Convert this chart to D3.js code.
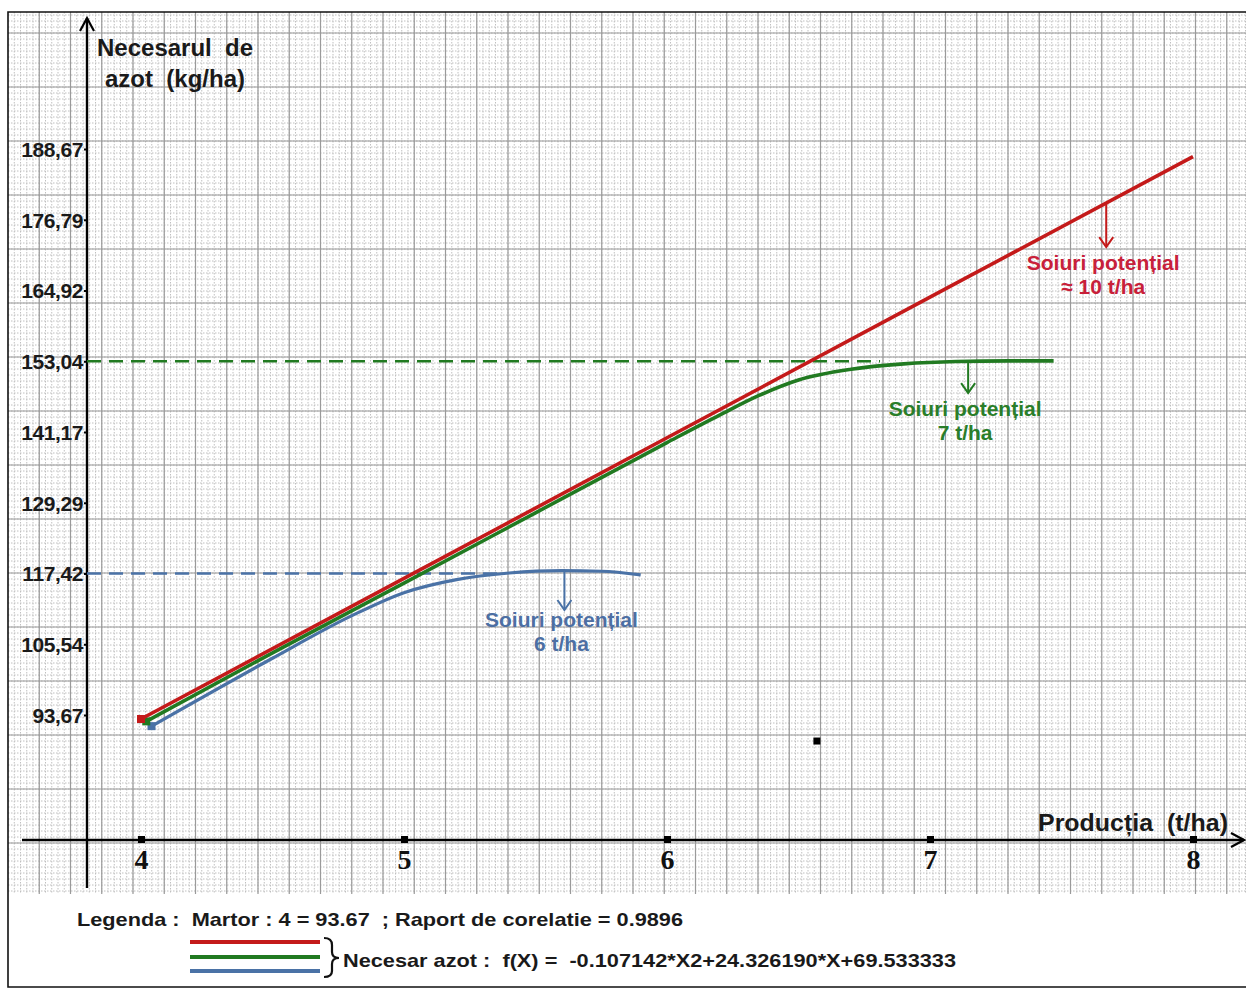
<!DOCTYPE html>
<html><head><meta charset="utf-8">
<script src="https://cdn.jsdelivr.net/npm/d3@7"></script>
<style>body{margin:0;background:#fff}svg{display:block}</style>
</head><body><svg id="c" width="1246" height="989"></svg>
<script>
// ---------- data ----------
const xTicks = [4, 5, 6, 7, 8];
const yTicks = [93.67, 105.54, 117.42, 129.29, 141.17, 153.04, 164.92, 176.79, 188.67];
const yTickLabels = ["93,67", "105,54", "117,42", "129,29", "141,17", "153,04", "164,92", "176,79", "188,67"];

const redX = [4, 5, 6, 7, 8];
const redY = [93.0, 116.6, 140.2, 163.8, 187.4];
const greenX = [4.02, 4.5, 5.0, 5.5, 6.0, 6.2, 6.35, 6.5, 6.7, 6.9, 7.1, 7.3, 7.47];
const greenY = [92.6, 104.1, 115.8, 127.6, 139.4, 144.0, 147.3, 149.9, 151.7, 152.6, 153.0, 153.1, 153.1];
const blueX = [4.04, 4.5, 4.8, 5.0, 5.2, 5.4, 5.6, 5.75, 5.9];
const blueY = [91.8, 103.2, 110.3, 114.2, 116.4, 117.5, 117.9, 117.8, 117.2];

const refLevels = [117.42, 153.04];
const refEnds = [5.37, 6.81];

const annX = [7.67, 7.145, 5.61];
const annBottom = [172.2, 147.7, 111.3];
const annLine1 = ["Soiuri potențial", "Soiuri potențial", "Soiuri potențial"];
const annLine2 = ["≈ 10 t/ha", "7 t/ha", "6 t/ha"];

const strayPoint = [6.57, 89.3];

const yTitle = ["Necesarul  de", "azot  (kg/ha)"];
const xTitle = "Producția  (t/ha)";
const legendLine1 = "Legenda :  Martor : 4 = 93.67  ; Raport de corelatie = 0.9896";
const legendLine2 = "Necesar azot :  f(X) =  -0.107142*X2+24.326190*X+69.533333";

// ---------- styles ----------
const RED = "#c41a1a", GREEN = "#217a21", BLUE = "#4a72a6";
const RED_T = "#c8203a", GREEN_T = "#2a7e2a", BLUE_T = "#4d6fa3";
const svg = d3.select("#c");

const x = d3.scaleLinear().domain([4, 8]).range([141, 1193]);
const y = d3.scaleLinear().domain([93.67, 188.67]).range([715, 149]);

// ---------- background grid ----------
const gx0 = 8, gx1 = 1246, gy0 = 12, gy1 = 894;
const grid = svg.append("g");
const minorV = d3.range(133 - 31.25 * 4, gx1, 6.25).filter(v => v > gx0);
const minorH = d3.range(195 - 54 * 4, gy1, 6).filter(v => v > gy0);
grid.selectAll(".mv").data(minorV).join("line")
  .attr("x1", d => d).attr("x2", d => d).attr("y1", gy0).attr("y2", gy1)
  .attr("stroke", "#c0c0c0").attr("stroke-width", 1).attr("stroke-dasharray", "1.5,1.5");
grid.selectAll(".mh").data(minorH).join("line")
  .attr("y1", d => d).attr("y2", d => d).attr("x1", gx0).attr("x2", gx1)
  .attr("stroke", "#c0c0c0").attr("stroke-width", 1).attr("stroke-dasharray", "1.5,1.5");
const majorV = d3.range(133 - 31.25 * 4, gx1, 31.25).filter(v => v > gx0);
const majorH = d3.range(195 - 54 * 4, gy1, 54).filter(v => v > gy0);
grid.selectAll(".Mv").data(majorV).join("line")
  .attr("x1", d => d).attr("x2", d => d).attr("y1", gy0).attr("y2", gy1)
  .attr("stroke", "#9a9a9a").attr("stroke-width", 1.2);
grid.selectAll(".Mh").data(majorH).join("line")
  .attr("y1", d => d).attr("y2", d => d).attr("x1", gx0).attr("x2", gx1)
  .attr("stroke", "#9a9a9a").attr("stroke-width", 1.2);

// frame
svg.append("path").attr("d", `M${gx1},12 H8 V987 H${gx1}`)
  .attr("fill", "none").attr("stroke", "#111").attr("stroke-width", 1.6);

// ---------- axes ----------
const axX = 87, axY = 840;
svg.append("line").attr("x1", axX).attr("x2", axX).attr("y1", 888).attr("y2", 18)
  .attr("stroke", "#000").attr("stroke-width", 2.4);
svg.append("path").attr("d", `M${axX - 7},31 L${axX},18 L${axX + 7},31`)
  .attr("fill", "none").attr("stroke", "#000").attr("stroke-width", 2.2);
svg.append("line").attr("x1", 22).attr("x2", 1244).attr("y1", axY).attr("y2", axY)
  .attr("stroke", "#000").attr("stroke-width", 2.4);
svg.append("path").attr("d", `M1231,${axY - 7} L1244,${axY} L1231,${axY + 7}`)
  .attr("fill", "none").attr("stroke", "#000").attr("stroke-width", 2.2);

const yAxis = svg.append("g").attr("transform", `translate(${axX},0)`)
  .call(d3.axisLeft(y).tickValues(yTicks).tickFormat((d, i) => yTickLabels[i]).tickSize(3).tickPadding(1));
yAxis.select(".domain").remove();
yAxis.selectAll(".tick line").attr("stroke", "#000").attr("stroke-width", 2);
yAxis.selectAll("text").attr("font-family", "Liberation Sans, Arial, sans-serif")
  .attr("font-weight", "bold").attr("font-size", 21).attr("fill", "#1a1a1a")
  .attr("dy", "0.35em").attr("letter-spacing", "-0.4");

const xAxis = svg.append("g").attr("transform", `translate(0,${axY})`)
  .call(d3.axisBottom(x).tickValues(xTicks).tickFormat(d3.format("d")).tickSize(0).tickPadding(9));
xAxis.select(".domain").remove();
xAxis.selectAll("text").attr("font-family", "Liberation Serif, Times New Roman, serif")
  .attr("font-weight", "bold").attr("font-size", 28).attr("fill", "#111");
xAxis.selectAll(".tick").append("rect").attr("x", -3.5).attr("y", -4).attr("width", 7).attr("height", 7).attr("fill", "#000");

// axis titles
const tFont = "Liberation Sans, Arial, sans-serif";
svg.append("text").attr("x", 97).attr("y", 56).text(yTitle[0])
  .attr("font-family", tFont).attr("font-weight", "bold").attr("font-size", 24).attr("fill", "#1a1a1a")
  .style("white-space", "pre");
svg.append("text").attr("x", 105).attr("y", 87).text(yTitle[1])
  .attr("font-family", tFont).attr("font-weight", "bold").attr("font-size", 24).attr("fill", "#1a1a1a")
  .style("white-space", "pre").attr("textLength", 140).attr("lengthAdjust", "spacingAndGlyphs");
svg.append("text").attr("x", 1038).attr("y", 831).text(xTitle)
  .attr("font-family", tFont).attr("font-weight", "bold").attr("font-size", 24).attr("fill", "#1a1a1a")
  .style("white-space", "pre").attr("textLength", 190).attr("lengthAdjust", "spacingAndGlyphs");

// ---------- reference dashed lines ----------
const refColors = [BLUE, GREEN];
svg.selectAll(".ref").data(refLevels).join("line")
  .attr("x1", axX).attr("x2", (d, i) => x(refEnds[i]))
  .attr("y1", d => y(d)).attr("y2", d => y(d))
  .attr("stroke", (d, i) => refColors[i]).attr("stroke-width", 2.4).attr("stroke-dasharray", "14,8");

// ---------- series ----------
const series = [
  {xs: redX, ys: redY, color: RED, curve: d3.curveLinear, w: 3.6},
  {xs: greenX, ys: greenY, color: GREEN, curve: d3.curveMonotoneX, w: 3.6},
  {xs: blueX, ys: blueY, color: BLUE, curve: d3.curveMonotoneX, w: 3.2}
];
const lineGen = c => d3.line().x(d => x(d[0])).y(d => y(d[1])).curve(c);
[2, 1, 0].forEach(k => {
  const s = series[k];
  const pts = s.xs.map((v, i) => [v, s.ys[i]]);
  svg.append("path").attr("d", lineGen(s.curve)(pts))
    .attr("fill", "none").attr("stroke", s.color).attr("stroke-width", s.w).attr("stroke-linecap", "butt");
  svg.append("rect").attr("x", x(pts[0][0]) - 4).attr("y", y(pts[0][1]) - 4)
    .attr("width", 8).attr("height", 8).attr("fill", s.color);
});

// stray point
svg.append("rect").attr("x", x(strayPoint[0]) - 3.5).attr("y", y(strayPoint[1]) - 3.5)
  .attr("width", 7).attr("height", 7).attr("fill", "#000");

// ---------- annotations ----------
const annColors = [RED, GREEN, BLUE];
const annTextColors = [RED_T, GREEN_T, BLUE_T];
const annOff1 = [23, 23, 17];
annX.forEach((ax, i) => {
  const s = series[i];
  const yTop = d3.scaleLinear().domain(s.xs).range(s.ys)(ax);
  const px = x(ax), pTop = y(yTop), pBot = y(annBottom[i]);
  svg.append("line").attr("x1", px).attr("x2", px).attr("y1", pTop).attr("y2", pBot)
    .attr("stroke", annColors[i]).attr("stroke-width", 2);
  svg.append("path").attr("d", `M${px - 7},${pBot - 10} L${px},${pBot} L${px + 7},${pBot - 10}`)
    .attr("fill", "none").attr("stroke", annColors[i]).attr("stroke-width", 2);
  const t = svg.append("text").attr("text-anchor", "middle")
    .attr("font-family", tFont).attr("font-weight", "bold").attr("font-size", 21)
    .attr("fill", annTextColors[i]);
  t.append("tspan").attr("x", px - 3).attr("y", pBot + annOff1[i]).text(annLine1[i]);
  t.append("tspan").attr("x", px - 3).attr("y", pBot + annOff1[i] + 24).text(annLine2[i]);
});

// ---------- legend ----------
svg.append("text").attr("x", 77).attr("y", 926).text(legendLine1)
  .attr("font-family", tFont).attr("font-weight", "bold").attr("font-size", 19).attr("fill", "#1a1a1a")
  .style("white-space", "pre").attr("textLength", 606).attr("lengthAdjust", "spacingAndGlyphs");
const legColors = [RED, GREEN, BLUE];
const legY = [942, 957, 971];
svg.selectAll(".leg").data(legColors).join("line")
  .attr("x1", 190).attr("x2", 320).attr("y1", (d, i) => legY[i]).attr("y2", (d, i) => legY[i])
  .attr("stroke", d => d).attr("stroke-width", 4);
svg.append("path")
  .attr("d", "M324,938 Q332,938 332,945 L332,952 Q332,958 339,958 Q332,958 332,964 L332,971 Q332,977 324,977")
  .attr("fill", "none").attr("stroke", "#111").attr("stroke-width", 2.2);
svg.append("text").attr("x", 343).attr("y", 967).text(legendLine2)
  .attr("font-family", tFont).attr("font-weight", "bold").attr("font-size", 19).attr("fill", "#1a1a1a")
  .style("white-space", "pre").attr("textLength", 613).attr("lengthAdjust", "spacingAndGlyphs");
</script>
</body></html>
